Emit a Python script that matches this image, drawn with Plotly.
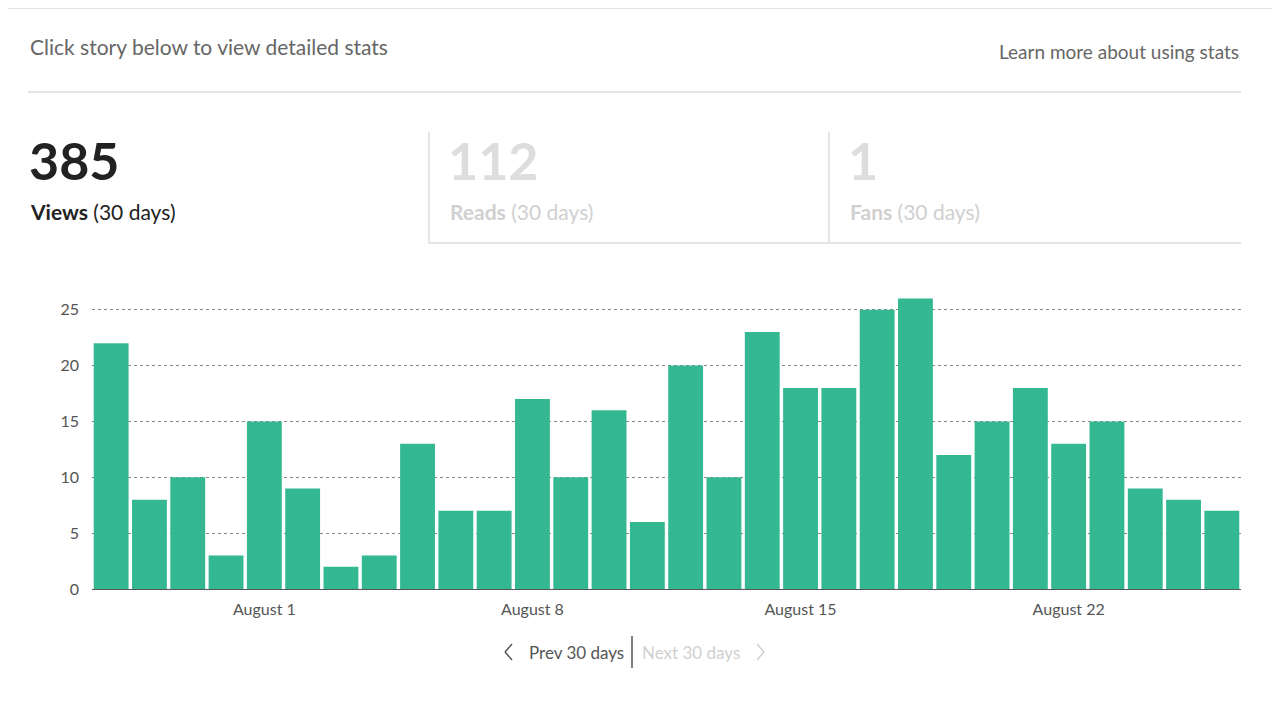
import pandas as pd
import plotly.graph_objects as go


def px(x, y):
    # convert screen pixels to paper coordinates of the plot area
    return (x - 92) / 1149, (589 - y) / 296


def generate_stats_graph():
    # 1. Data
    dates = pd.date_range('2023-07-28', periods=30, freq='D')
    views = [22, 8, 10, 3, 15, 9, 2, 3, 13, 7, 7, 17, 10, 16, 6,
             20, 10, 23, 18, 18, 25, 26, 12, 15, 18, 13, 15, 9, 8, 7]
    df = pd.DataFrame({'date': dates, 'views': views})

    # 2. Bars
    fig = go.Figure()
    fig.add_trace(go.Bar(x=df['date'], y=df['views'], marker_color='#34b892',
                         marker_line_width=0, name='Views'))

    # 3. Header texts
    texts = [
        (28, 47, 'Click story below to view detailed stats', 21, '#666666', 'left'),
        (1241, 51, 'Learn more about using stats', 19, '#666666', 'right'),
        (27, 160, '<b>385</b>', 52, '#222222', 'left'),
        (28, 211, '<b>Views</b> (30 days)', 21, '#222222', 'left'),
        (446, 160, '<b>112</b>', 52, '#dddddd', 'left'),
        (448, 211, '<b>Reads</b> (30 days)', 21, '#d0d0d0', 'left'),
        (846, 160, '<b>1</b>', 52, '#dddddd', 'left'),
        (848, 211, '<b>Fans</b> (30 days)', 21, '#d0d0d0', 'left'),
        (527, 652, 'Prev 30 days', 17, '#555555', 'left'),
        (742, 652, 'Next 30 days', 17, '#d0d0d0', 'right'),
    ]
    for x, y, t, size, color, anchor in texts:
        xp, yp = px(x, y)
        fig.add_annotation(x=xp, y=yp, xref='paper', yref='paper', text=t,
                           showarrow=False, xanchor=anchor, yanchor='middle',
                           font=dict(size=size, color=color))

    # 4. Separator lines and chevrons
    lines = [
        (0, 8, 1280, 8, '#dddddd'),
        (28, 92, 1241, 92, '#dddddd'),
        (429, 132, 429, 243, '#dddddd'),
        (829, 132, 829, 243, '#dddddd'),
        (429, 243, 1241, 243, '#dddddd'),
        (632, 636, 632, 668, '#555555'),
        (512, 644, 505, 652, '#555555'),
        (505, 652, 512, 660, '#555555'),
        (757, 644, 764, 652, '#d0d0d0'),
        (764, 652, 757, 660, '#d0d0d0'),
    ]
    for x0, y0, x1, y1, color in lines:
        a, b = px(x0, y0)
        c, d = px(x1, y1)
        fig.add_shape(type='line', xref='paper', yref='paper', x0=a, y0=b, x1=c, y1=d,
                      line=dict(color=color, width=1.5))

    # 5. Formatting
    fig.update_layout(
        template='plotly_white',
        width=1280, height=720,
        margin=dict(l=84, r=47, t=285, b=139),
        bargap=0.09,
        showlegend=False,
        font=dict(family='Lato', color='#555555', size=16),
        plot_bgcolor='white', paper_bgcolor='white',
    )
    fig.update_xaxes(tickvals=pd.to_datetime(['2023-08-01', '2023-08-08', '2023-08-15', '2023-08-22']),
                     ticktext=['August 1', 'August 8', 'August 15', 'August 22'],
                     showgrid=False, showline=True, linecolor='#555555', ticks='',
                     ticklabelstandoff=6,
                     range=[pd.Timestamp('2023-07-27 12:00'), pd.Timestamp('2023-08-26 12:00')])
    fig.update_yaxes(range=[0, 26.5], tickvals=[0, 5, 10, 15, 20, 25], showgrid=True,
                     gridcolor='#888888', griddash='dot', gridwidth=1, zeroline=False, ticks='',
                     ticklabelstandoff=12)

    # 6. Save to HTML
    fig.write_html('out.html')


if __name__ == "__main__":
    generate_stats_graph()
